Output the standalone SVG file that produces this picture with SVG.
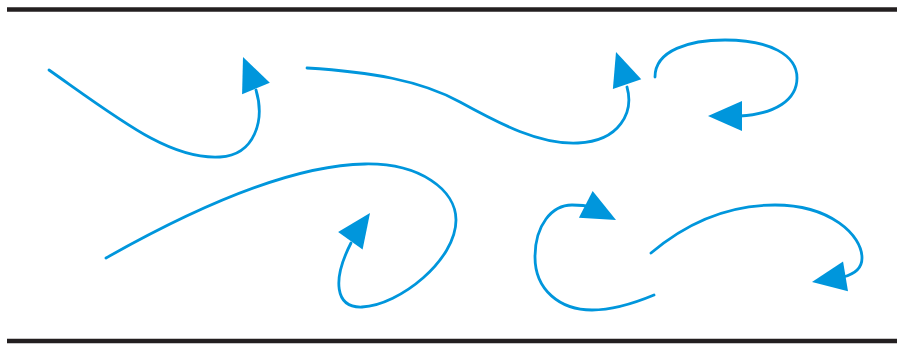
<svg xmlns="http://www.w3.org/2000/svg" xmlns:xlink="http://www.w3.org/1999/xlink" width="897" height="345" viewBox="0 0 897 345">
<style>
.wall{stroke:#231f20;stroke-width:4.5;fill:none}
.flow{stroke:#0096dc;stroke-width:2.8;fill:none;stroke-linecap:round}
.head{fill:#0096dc}
</style>
<defs>
<path id="ah" class="head" d="M0,0 L-34,-15 L-34,15 Z"/>
</defs>
<rect width="897" height="345" fill="#ffffff"/>
<g id="walls">
<line class="wall" x1="7" y1="9.5" x2="897" y2="9.5"/>
<line class="wall" x1="7" y1="341" x2="897" y2="341"/>
</g>
<g id="eddies">
<g id="eddy1">
<path class="flow" d="M49,70 C 120,120 170,160 220,157 C 255,155 265,120 256,90"/>
<use href="#ah" transform="translate(243,57) rotate(-112.4)"/>
</g>
<g id="eddy2">
<path class="flow" d="M307,68 C 370,72 420,80 460,102 S 540,145 578,143 C 620,141 634,112 627,87"/>
<use href="#ah" transform="translate(616,52) rotate(-109)"/>
</g>
<g id="eddy3">
<path class="flow" d="M655,77 C 655,50 690,40 725,40 C 770,40 797,55 797,78 C 797,100 775,114 740,116"/>
<use href="#ah" transform="translate(708,116) rotate(180)"/>
</g>
<g id="eddy4">
<path class="flow" d="M106,258 C 200,205 295,165 365,164 C 420,163 456,190 456,220 C 456,260 400,305 362,307 C 335,308 332,280 351,243"/>
<use href="#ah" transform="translate(370,213) rotate(-54.7)"/>
</g>
<g id="eddy5">
<path class="flow" d="M654,295 C 630,305 610,310 592,310 C 560,310 535,290 535,257 C 535,225 552,205 572,205 C 580,205 585,205 590,207"/>
<use href="#ah" transform="translate(616,220) rotate(27.3)"/>
</g>
<g id="eddy6">
<path class="flow" d="M651,253 C 690,220 730,205 775,205 C 830,205 862,235 862,258 C 862,268 855,274 843,277"/>
<use href="#ah" transform="translate(812,282) rotate(170.5)"/>
</g>
</g>
</svg>
